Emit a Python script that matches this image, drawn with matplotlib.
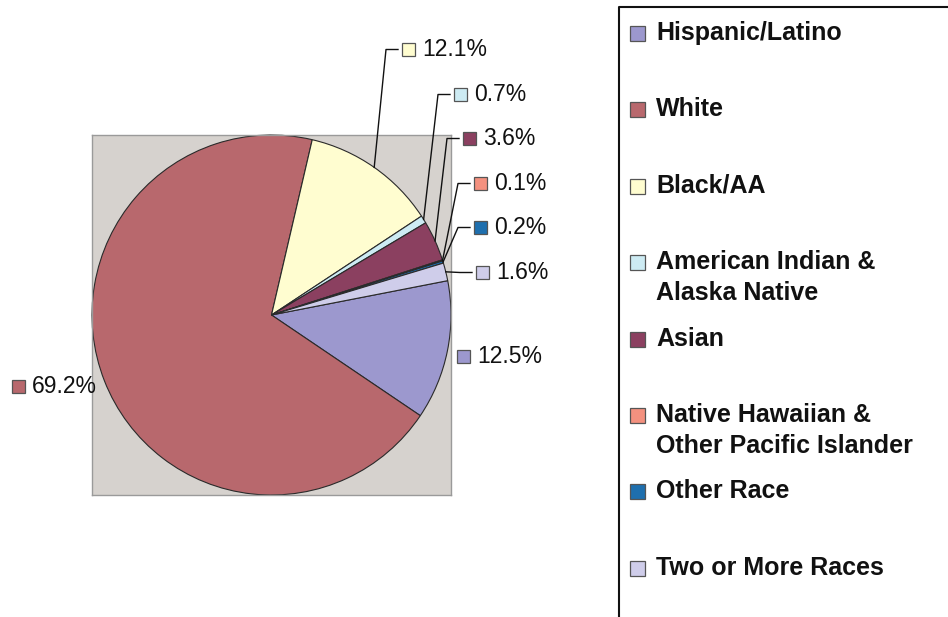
import numpy as np
import matplotlib
matplotlib.use("Agg")
import matplotlib.pyplot as plt
from matplotlib.patches import Rectangle

plt.rcParams['font.family'] = ['Liberation Sans', 'DejaVu Sans']

# data (legend order)
groups = ["Hispanic/Latino", "White", "Black/AA", "American Indian &\nAlaska Native",
          "Asian", "Native Hawaiian &\nOther Pacific Islander", "Other Race", "Two or More Races"]
shares = [12.5, 69.2, 12.1, 0.7, 3.6, 0.1, 0.2, 1.6]
labels = ["12.5%", "69.2%", "12.1%", "0.7%", "3.6%", "0.1%", "0.2%", "1.6%"]
colors = ["#9C98CE", "#B8686D", "#FFFDD0", "#CDEBF3", "#8B4060", "#F4917F", "#1E6FAE", "#CFCDEA"]

# label placement in figure pixels: (marker left, text baseline), leader line or not
label_pos = [(457, 363), (12, 393), (402, 56), (454, 101), (463, 145),
             (474, 190), (474, 234), (476, 279)]
has_leader = [False, False, True, True, True, True, True, True]

W, H = 948, 617
fig = plt.figure(figsize=(W / 100, H / 100), dpi=100)

# plot area (grey box)
left, top, right, bottom = 92, 135, 451, 495
ax = fig.add_axes([left / W, 1 - bottom / H, (right - left) / W, (bottom - top) / H])
wedges, _ = ax.pie(shares, colors=colors, startangle=11, counterclock=False,
                   wedgeprops=dict(edgecolor="#2a2a2a", linewidth=0.8), radius=1.0)
ax.set_frame_on(True)
ax.set_facecolor("#D6D2CE")
ax.set_xlim(-1.0, 1.0)
ax.set_ylim(-1.0, 1.0)
ax.set_aspect("auto")
ax.set_xticks([])
ax.set_yticks([])
for s in ax.spines.values():
    s.set_visible(True)
    s.set_color("#9a9a9a")
    s.set_linewidth(1.0)

# overlay in pixel coordinates
ov = fig.add_axes([0, 0, 1, 1], zorder=5)
ov.set_xlim(0, W)
ov.set_ylim(H, 0)
ov.axis("off")
ov.patch.set_alpha(0)

fig.canvas.draw()
to_px = ax.transData + ov.transData.inverted()

msz = 13
for w, lab, col, (mx, by), lead in zip(wedges, labels, colors, label_pos, has_leader):
    cy = by - 6.5
    ov.add_patch(Rectangle((mx, cy - msz / 2), msz, msz, facecolor=col,
                           edgecolor="#555555", linewidth=0.9))
    ov.text(mx + 20, by, lab, fontsize=16.5, va="baseline", ha="left", color="#111111")
    if lead:
        mid = np.deg2rad((w.theta1 + w.theta2) / 2)
        ex, ey = to_px.transform((np.cos(mid), np.sin(mid)))
        ov.plot([ex, mx - 16, mx - 4], [ey, cy, cy], color="#111111", linewidth=1.0)

# legend box
ov.plot([619, 619, W + 5], [H + 5, 7, 7], color="#111111", linewidth=1.5)
base0, step, line_h = 40, 76.4, 31
for i, (g, col) in enumerate(zip(groups, colors)):
    by = base0 + i * step
    ov.add_patch(Rectangle((630, by - 14), 15, 15, facecolor=col,
                           edgecolor="#555555", linewidth=0.9))
    for k, line in enumerate(g.split("\n")):
        ov.text(656, by + k * line_h, line, fontsize=18, fontweight="bold",
                va="baseline", ha="left", color="#111111")

fig.savefig("out.png", dpi=100, facecolor="white")
